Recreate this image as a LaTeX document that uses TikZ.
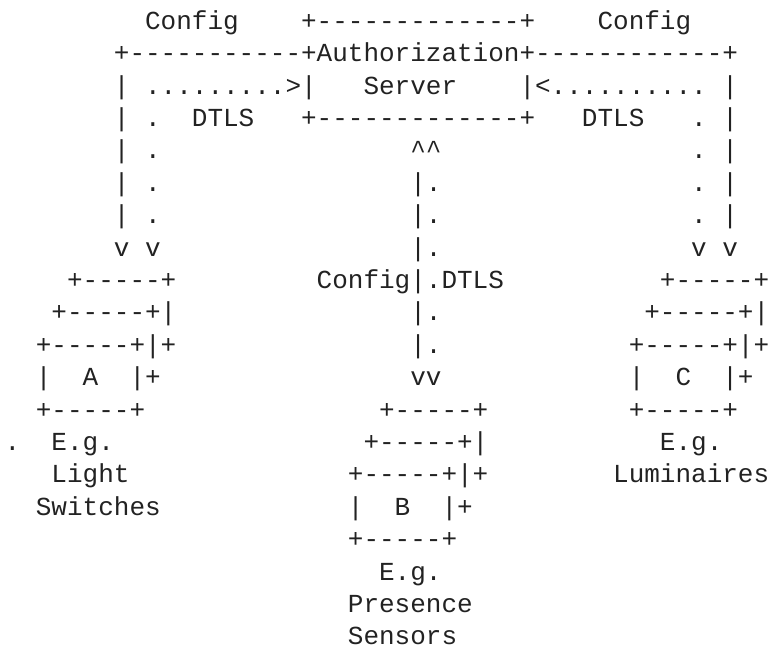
\documentclass[tikz,border=0pt]{standalone}
\usepackage{fontspec}
\setmonofont{Liberation Mono}
\usepackage{tikz}
\definecolor{ink}{RGB}{34,34,34}
\tikzset{ascii/.style={anchor=base west, inner sep=0pt, outer sep=0pt, text=ink,
    font=\ttfamily\fontsize{19.5}{24}\selectfont}}

\begin{document}
\begin{tikzpicture}[x=11.7pt, y=-24.3pt]

      \useasboundingbox (-0.301,-0.904) rectangle (48.99,19.13);

      % AUTHORIZATION SERVER

      \node[ascii] (cfgl)  at (9,0)  {Config};
      \node[ascii] (astop) at (19,0) {+-------------+};
      \node[ascii] (cfgr)  at (38,0) {Config};
      \node[ascii] (asmid) at (7,1)  {+-----------+Authorization+------------+};
      \node[ascii] (asl)   at (7,2)  {|};
      \node[ascii] (dtl)   at (9,2)  {.........>|};
      \node[ascii] (srv)   at (23,2) {Server};
      \node[ascii] (dtr)   at (33,2) {|<..........};
      \node[ascii] (asr)   at (46,2) {|};
      \node[ascii] (asbot) at (19,3) {+-------------+};

      % LEFT AND RIGHT LINKS

      \node[ascii] (dtlsl) at (12,3) {DTLS};
      \node[ascii] (dtlsr) at (37,3) {DTLS};
      \foreach \r in {3,...,6} {
        \node[ascii] (ll\r) at (7,\r)  {|};
        \node[ascii] (dl\r) at (9,\r)  {.};
        \node[ascii] (dr\r) at (44,\r) {.};
        \node[ascii] (lr\r) at (46,\r) {|};
      }
      \node[ascii] (vl1) at (7,7)  {v};
      \node[ascii] (vl2) at (9,7)  {v};
      \node[ascii] (vr1) at (44,7) {v};
      \node[ascii] (vr2) at (46,7) {v};

      % MIDDLE LINK

      \node[ascii] (up) at (26,4) {\textasciicircum\textasciicircum};
      \foreach \r in {5,6,7,9,10} {
        \node[ascii] (lm\r) at (26,\r) {|.};
      }
      \node[ascii] (lm8) at (20,8)  {Config|.DTLS};
      \node[ascii] (dn)  at (26,11) {vv};

      % DEVICES A

      \node[ascii] (a1) at (4,8)  {+-----+};
      \node[ascii] (a2) at (3,9)  {+-----+|};
      \node[ascii] (a3) at (2,10) {+-----+|+};
      \node[ascii] (a4) at (2,11) {|};
      \node[ascii] (a)  at (5,11) {A};
      \node[ascii] (a5) at (8,11) {|+};
      \node[ascii] (a6) at (2,12) {+-----+};
      \node[ascii] (dot) at (0,13) {.};
      \node[ascii] (ea) at (3,13) {E.g.};
      \node[ascii] (la) at (3,14) {Light};
      \node[ascii] (sa) at (2,15) {Switches};

      % DEVICES B

      \node[ascii] (b1) at (24,12) {+-----+};
      \node[ascii] (b2) at (23,13) {+-----+|};
      \node[ascii] (b3) at (22,14) {+-----+|+};
      \node[ascii] (b4) at (22,15) {|};
      \node[ascii] (b)  at (25,15) {B};
      \node[ascii] (b5) at (28,15) {|+};
      \node[ascii] (b6) at (22,16) {+-----+};
      \node[ascii] (eb) at (24,17) {E.g.};
      \node[ascii] (pb) at (22,18) {Presence};
      \node[ascii] (sb) at (22,19) {Sensors};

      % DEVICES C

      \node[ascii] (c1) at (42,8)  {+-----+};
      \node[ascii] (c2) at (41,9)  {+-----+|};
      \node[ascii] (c3) at (40,10) {+-----+|+};
      \node[ascii] (c4) at (40,11) {|};
      \node[ascii] (c)  at (43,11) {C};
      \node[ascii] (c5) at (46,11) {|+};
      \node[ascii] (c6) at (40,12) {+-----+};
      \node[ascii] (ec) at (42,13) {E.g.};
      \node[ascii] (lc) at (39,14) {Luminaires};

\end{tikzpicture}
\end{document}
